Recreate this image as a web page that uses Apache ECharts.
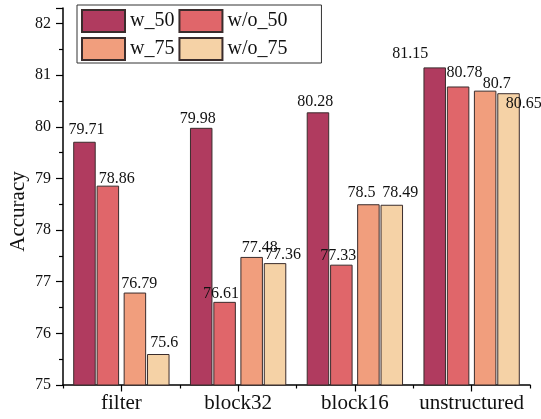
<!DOCTYPE html>
<html>
<head>
<meta charset="utf-8">
<script src="https://cdn.jsdelivr.net/npm/echarts@6/dist/echarts.min.js"></script>
<style>
html,body{margin:0;padding:0;background:#fff;}
#chart{width:541px;height:419px;}
</style>
</head>
<body>
<div id="chart"></div>
<script>
// ---- data ----
var categories = ['filter', 'block32', 'block16', 'unstructured'];
var seriesNames = ['w_50', 'w/o_50', 'w_75', 'w/o_75'];
var w50  = [79.71, 79.98, 80.28, 81.15];
var wo50 = [78.86, 76.61, 77.33, 80.78];
var w75  = [76.79, 77.48, 78.5, 80.7];
var wo75 = [75.6, 77.36, 78.49, 80.65];
var yTicks = [75, 76, 77, 78, 79, 80, 81, 82];

// ---- label placement (pixel offsets from default top position) ----
var offW50  = [[2, 1.2], [-3.5, 3.7], [-2.8, 2.3], [-24.5, -1]];
var offWo50 = [[9, 6.2], [-3.6, 4.5], [-3, 3.8], [6.5, -0.6]];
var offW75  = [[4.4, 3.8], [8, 4], [-7, 1.5], [11.5, 6.6]];
var offWo75 = [[5.9, 1.6], [8, 5], [8.5, 1.5], [15.3, 23.5]];

var colors = ['#b03b5f', '#e0666a', '#f19e7d', '#f5d2a6'];
var FONT = '"Liberation Serif", "Times New Roman", serif';

function mkData(vals, offs) {
  return vals.map(function (v, i) {
    return { value: v, label: { offset: offs[i] } };
  });
}

function barSeries(name, vals, offs, color) {
  return {
    name: name,
    type: 'bar',
    barWidth: 22.5,
    barGap: '4%',
    barCategoryGap: '10%',
    data: mkData(vals, offs),
    itemStyle: { color: color, borderColor: '#3a2c2c', borderWidth: 1 },
    label: {
      show: true,
      position: 'top',
      color: '#111',
      fontFamily: FONT,
      fontSize: 16
    },
    emphasis: { disabled: true }
  };
}

var chart = echarts.init(document.getElementById('chart'), null, { renderer: 'canvas' });
chart.setOption({
  animation: false,
  backgroundColor: '#fff',
  grid: { left: 63, right: 11, top: 8, bottom: 34, containLabel: false, outerBoundsMode: 'none' },
  legend: {
    data: seriesNames,
    left: 77,
    top: 5,
    width: 215,
    icon: 'rect',
    itemWidth: 43,
    itemHeight: 22,
    itemGap: 4,
    padding: [4, 34, 2, 4],
    borderColor: '#333',
    borderWidth: 1,
    borderRadius: 0,
    textStyle: { fontFamily: FONT, fontSize: 20, color: '#111' }
  },
  xAxis: [{
    type: 'category',
    data: categories,
    axisLine: { show: true, lineStyle: { color: '#000', width: 1.5 } },
    axisTick: { show: true, alignWithLabel: true, length: 6.5, lineStyle: { color: '#000', width: 1.2 } },
    axisLabel: { interval: 0, fontFamily: FONT, fontSize: 21, color: '#111', margin: 8 },
    splitLine: { show: false }
  }, {
    type: 'value',
    position: 'bottom',
    min: 0, max: 4, interval: 1,
    axisLine: { show: false },
    axisTick: { show: true, length: 3.5, lineStyle: { color: '#000', width: 1.2 } },
    axisLabel: { show: false },
    splitLine: { show: false }
  }],
  yAxis: {
    type: 'value',
    min: yTicks[0],
    max: 82.3,
    interval: 1,
    name: 'Accuracy',
    nameLocation: 'middle',
    nameGap: 34,
    nameMoveOverlap: false,
    nameTextStyle: { fontFamily: FONT, fontSize: 21, color: '#111', padding: [0, 30, 0, 0] },
    axisLine: { show: true, lineStyle: { color: '#000', width: 1.5 } },
    axisTick: { show: true, length: 7, lineStyle: { color: '#000', width: 1.2 } },
    minorTick: { show: true, splitNumber: 2, length: 4, lineStyle: { color: '#000', width: 1.2 } },
    axisLabel: {
      fontFamily: FONT, fontSize: 16, color: '#111', margin: 12,
      formatter: function (v) { return yTicks.indexOf(v) >= 0 ? String(v) : ''; }
    },
    splitLine: { show: false }
  },
  series: [
    barSeries('w_50', w50, offW50, colors[0]),
    barSeries('w/o_50', wo50, offWo50, colors[1]),
    { name: 'gap', type: 'bar', barWidth: 3.5, barGap: '4%', data: [], silent: true },
    barSeries('w_75', w75, offW75, colors[2]),
    barSeries('w/o_75', wo75, offWo75, colors[3])
  ]
});
</script>
</body>
</html>
